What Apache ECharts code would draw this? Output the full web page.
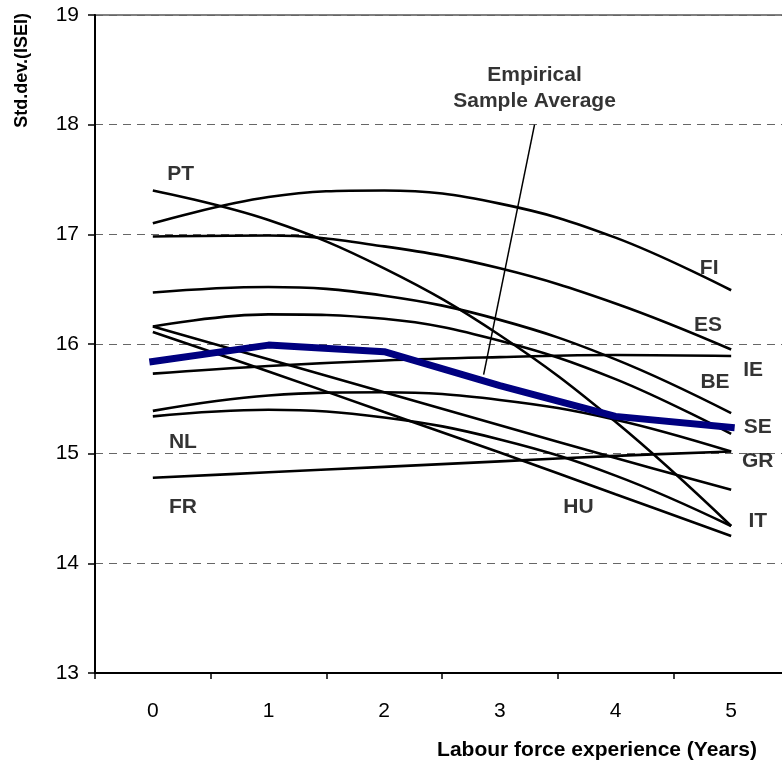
<!DOCTYPE html>
<html>
<head>
<meta charset="utf-8">
<script src="https://cdn.jsdelivr.net/npm/echarts@6/dist/echarts.min.js"></script>
<style>
  html, body { margin: 0; padding: 0; background: #fff; overflow: hidden; }
  #chart { width: 790px; height: 762px; }
</style>
</head>
<body>
<div id="chart"></div>
<script>
// Labour force experience (years) on the category axis
const years = ['0', '1', '2', '3', '4', '5'];
const yTicks = [13, 14, 15, 16, 17, 18, 19];

// Predicted std.dev. of ISEI by country
const PT = [17.40, 17.13, 16.69, 16.08, 15.29, 14.34];
const FI = [17.10, 17.34, 17.40, 17.28, 16.97, 16.49];
const ES = [16.98, 16.99, 16.89, 16.69, 16.37, 15.95];
const BE = [16.47, 16.52, 16.44, 16.22, 15.86, 15.37];
const SE = [16.16, 16.27, 16.23, 16.03, 15.68, 15.18];
const IT = [16.16, 15.86, 15.56, 15.26, 14.96, 14.67];
const HU = [16.11, 15.75, 15.38, 15.01, 14.63, 14.25];
const IE = [15.73, 15.80, 15.85, 15.88, 15.90, 15.89];
const GR = [15.39, 15.53, 15.56, 15.49, 15.31, 15.02];
const NL = [15.34, 15.40, 15.33, 15.13, 14.80, 14.34];
const FR = [14.78, 14.83, 14.88, 14.93, 14.98, 15.02];

// Empirical sample average
const average = [15.84, 15.99, 15.93, 15.62, 15.34, 15.24];

// Country tags: [text, experience, std.dev.]
const countryTags = [
  ['PT', 0.24, 17.55], ['NL', 0.26, 15.10], ['FR', 0.26, 14.51],
  ['HU', 3.68, 14.51], ['FI', 4.81, 16.69], ['ES', 4.80, 16.17],
  ['IE', 5.19, 15.76], ['BE', 4.86, 15.65], ['SE', 5.23, 15.24],
  ['GR', 5.23, 14.93], ['IT', 5.23, 14.38]
];
const averageNote = ['Empirical\nSample Average', 3.30, 18.33];
const averagePointer = [[3.30, 18.0], [2.86, 15.72]];

const countries = { PT, FI, ES, BE, SE, IT, HU, IE, GR, NL, FR };
const FONT = '"Liberation Sans", Arial, sans-serif';

const countrySeries = Object.keys(countries).map(function (k) {
  return {
    name: k,
    type: 'line',
    data: countries[k],
    smooth: 0.4,
    symbol: 'none',
    lineStyle: { color: '#000', width: 2.6 },
    z: 3
  };
});

const chart = echarts.init(document.getElementById('chart'), null, { renderer: 'canvas' });
chart.setOption({
  animation: false,
  backgroundColor: '#fff',
  grid: {
    left: 95, top: 15, right: 1, bottom: 89,
    show: true, borderColor: '#808080', borderWidth: 2, backgroundColor: 'transparent'
  },
  xAxis: [
    {
      type: 'category',
      data: years,
      boundaryGap: true,
      axisLine: { onZero: false, lineStyle: { color: '#000', width: 2 } },
      axisTick: { show: true, length: 6, lineStyle: { color: '#000', width: 1.5 } },
      axisLabel: { color: '#000', fontFamily: FONT, fontSize: 21, margin: 28 },
      splitLine: { show: false }
    },
    {
      type: 'value', min: -0.5, max: 5.5, show: false,
      axisLine: { show: false, onZero: false }, splitLine: { show: false }
    }
  ],
  yAxis: {
    type: 'value',
    min: yTicks[0],
    max: yTicks[yTicks.length - 1],
    interval: 1,
    axisLine: { show: true, onZero: false, lineStyle: { color: '#000', width: 2 } },
    axisTick: { show: true, length: 7, lineStyle: { color: '#000', width: 1.5 } },
    axisLabel: { color: '#000', fontFamily: FONT, fontSize: 21, margin: 16 },
    splitLine: { show: true, lineStyle: { color: '#666', width: 1, type: [8, 6] } }
  },
  series: countrySeries.concat([
    {
      name: 'Empirical Sample Average',
      type: 'line',
      data: average,
      symbol: 'none',
      lineStyle: { color: '#000080', width: 7, cap: 'square' },
      z: 5
    },
    {
      type: 'line',
      xAxisIndex: 1,
      data: averagePointer,
      symbol: 'none',
      lineStyle: { color: '#000', width: 1.5 },
      z: 4
    },
    {
      type: 'scatter',
      xAxisIndex: 1,
      symbolSize: 0,
      data: countryTags.map(function (t) { return { name: t[0], value: [t[1], t[2]] }; })
        .concat([{ name: averageNote[0], value: [averageNote[1], averageNote[2]] }]),
      label: {
        show: true,
        position: 'inside',
        formatter: function (p) { return p.name; },
        color: '#000',
        textBorderWidth: 0,
        fontFamily: FONT,
        fontWeight: 'bold',
        fontSize: 21,
        lineHeight: 26,
        align: 'center',
        verticalAlign: 'middle'
      },
      z: 6
    }
  ]),
  graphic: [
    {
      type: 'text',
      x: 22, y: 13,
      rotation: Math.PI / 2,
      style: {
        text: 'Std.dev.(ISEI)',
        font: 'bold 18px ' + FONT,
        fill: '#000',
        textAlign: 'right',
        textVerticalAlign: 'middle'
      }
    },
    {
      type: 'text',
      x: 597, y: 750,
      style: {
        text: 'Labour force experience (Years)',
        font: 'bold 21px ' + FONT,
        fill: '#000',
        textAlign: 'center',
        textVerticalAlign: 'middle'
      }
    }
  ]
});
</script>
</body>
</html>
